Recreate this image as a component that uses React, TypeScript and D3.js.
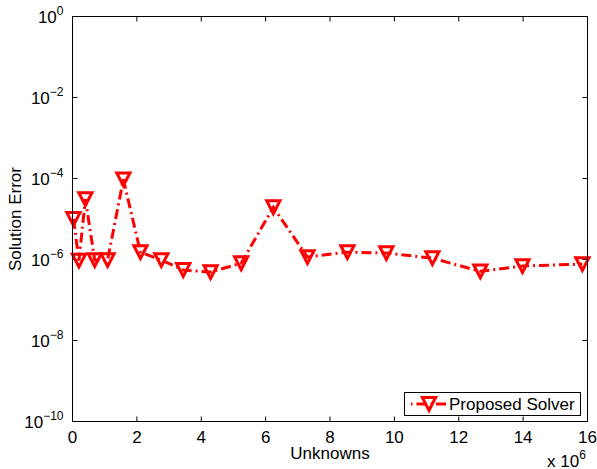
import * as d3 from "d3";

// values (x in units of 1e6)
const unknowns = [0.03, 0.2, 0.4, 0.69, 1.09, 1.58, 2.11, 2.76, 3.44, 4.29, 5.24, 6.24, 7.3, 8.54, 9.75, 11.18, 12.67, 13.98, 15.84];
const solutionError = [1.0e-5, 9.4e-7, 3.1e-5, 9.7e-7, 9.7e-7, 9.5e-5, 1.52e-6, 9.7e-7, 5.5e-7, 4.9e-7, 8.1e-7, 1.95e-5, 1.15e-6, 1.52e-6, 1.44e-6, 1.08e-6, 5.1e-7, 6.9e-7, 7.7e-7];
const xTicks = [0, 2, 4, 6, 8, 10, 12, 14, 16];
const yExponents = [0, -2, -4, -6, -8, -10];
const seriesName = "Proposed Solver";

const W = 597;
const H = 469;
const box = { left: 72.5, right: 587.5, top: 16.5, bottom: 421.5 };
const RED = "#ff0000";
const FONT = "'Liberation Sans', Arial, Helvetica, sans-serif";
const FS = 17;
const TICK = 5;

function Marker({ x, y }: { x: number; y: number }) {
  const w = 6.6;
  const h = 6.4;
  return (
    <path
      d={`M${x - w},${y - h}L${x + w},${y - h}L${x},${y + h}Z`}
      fill="none"
      stroke={RED}
      strokeWidth={3}
      strokeLinejoin="miter"
    />
  );
}

export default function App() {
  const x = d3.scaleLinear().domain([0, 16]).range([box.left, box.right]);
  const y = d3.scaleLog().domain([1e-10, 1]).range([box.bottom, box.top]);

  const pts = unknowns.map((u, i) => ({ u, e: solutionError[i] }));
  const line = d3
    .line<{ u: number; e: number }>()
    .x((d) => x(d.u))
    .y((d) => y(d.e));

  const dash = "10 4 2 4";
  const leg = { x0: 404.5, y0: 392.5, x1: 580.5, y1: 415.5 };
  const legY = (leg.y0 + leg.y1) / 2;

  return (
    <svg width={W} height={H} style={{ position: "absolute", left: 0, top: 0, background: "#fff" }} fontFamily={FONT}>
      <rect x={0} y={0} width={W} height={H} fill="#fff" />

      {/* ticks */}
      {xTicks.map((t) => (
        <g key={"x" + t}>
          <line x1={x(t)} x2={x(t)} y1={box.bottom} y2={box.bottom - TICK} stroke="#000" />
          <line x1={x(t)} x2={x(t)} y1={box.top} y2={box.top + TICK} stroke="#000" />
          <text x={x(t)} y={box.bottom + 21} textAnchor="middle" fontSize={FS}>
            {t}
          </text>
        </g>
      ))}
      {yExponents.map((p) => {
        const yy = y(Math.pow(10, p));
        return (
          <g key={"y" + p}>
            <line x1={box.left} x2={box.left + TICK} y1={yy} y2={yy} stroke="#000" />
            <line x1={box.right} x2={box.right - TICK} y1={yy} y2={yy} stroke="#000" />
            <text x={box.left - 9} y={yy + 6} textAnchor="end" fontSize={FS}>
              10
              <tspan fontSize={12} dy={-8}>
                {p === 0 ? "0" : "\u2212" + Math.abs(p)}
              </tspan>
            </text>
          </g>
        );
      })}

      {/* series */}
      <path d={line(pts) ?? ""} fill="none" stroke={RED} strokeWidth={3} strokeDasharray={dash} />
      {pts.map((d, i) => (
        <Marker key={i} x={x(d.u)} y={y(d.e)} />
      ))}

      {/* axes box */}
      <rect
        x={box.left}
        y={box.top}
        width={box.right - box.left}
        height={box.bottom - box.top}
        fill="none"
        stroke="#000"
        strokeWidth={1}
      />

      {/* labels */}
      <text x={(box.left + box.right) / 2} y={459} textAnchor="middle" fontSize={FS}>
        Unknowns
      </text>
      <text
        transform={`translate(21,${(box.top + box.bottom) / 2}) rotate(-90)`}
        textAnchor="middle"
        fontSize={FS}
      >
        Solution Error
      </text>
      <text x={547} y={467} fontSize={FS}>
        x 10
        <tspan fontSize={12} dy={-8}>
          6
        </tspan>
      </text>

      {/* legend */}
      <rect x={leg.x0} y={leg.y0} width={leg.x1 - leg.x0} height={leg.y1 - leg.y0} fill="#fff" stroke="#000" />
      <line x1={411} x2={446} y1={legY} y2={legY} stroke={RED} strokeWidth={3} strokeDasharray="1.5 4 10 4" />
      <Marker x={429} y={legY} />
      <text x={449} y={legY + 6} fontSize={FS}>
        {seriesName}
      </text>
    </svg>
  );
}
